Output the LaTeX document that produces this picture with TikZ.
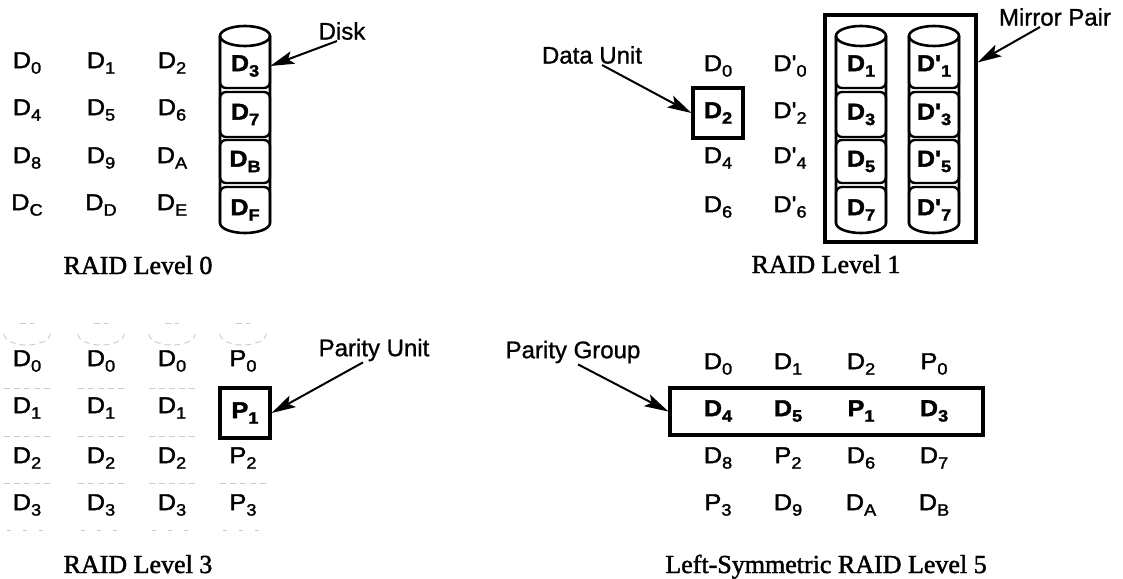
\documentclass[tikz,border=0pt]{standalone}
\usepackage{fontspec}
\setmainfont{Liberation Sans}
\newfontfamily\titlefont{Liberation Serif}[FakeBold=1.6]
\newfontfamily\lblf{Liberation Sans}[FakeBold=1.8, FakeStretch=1.1]
\newfontfamily\notef{Liberation Sans}[FakeBold=1.0]
\usetikzlibrary{arrows.meta,calc}
\newcommand{\Dl}[2]{#1\raisebox{-5.5pt}{\fontsize{16.5}{16.5}\selectfont #2}}
\newcommand{\diskcyl}[1]{%
  \draw[cylline] (#1-25,36) -- (#1-25,88) -- (#1+25,88) -- (#1+25,36);
  \draw[cylline] (#1-25,92) rectangle (#1+25,137);
  \draw[cylline] (#1-25,140) rectangle (#1+25,183);
  \draw[cylline] (#1-25,223) -- (#1-25,187) -- (#1+25,187) -- (#1+25,223);
  \draw[line width=2.6pt] (#1-25,36) -- (#1-25,223)
     arc[start angle=180,end angle=360,x radius=25pt,y radius=10pt] -- (#1+25,36);
  \draw[line width=2.6pt] (#1,36) ellipse [x radius=25pt, y radius=10pt];
}
\begin{document}
\begin{tikzpicture}[x=1pt,y=-1pt,
  lbl/.style={font=\lblf\fontsize{23}{23}\selectfont, inner sep=0pt},
  blbl/.style={inner sep=0pt, font=\lblf\fontsize{23}{23}\selectfont\bfseries},
  cell/.style={blbl, minimum width=50pt, minimum height=43pt},
  note/.style={font=\notef\fontsize{24}{24}\selectfont, inner sep=1pt},
  ttl/.style={font=\titlefont\fontsize{26}{26}\selectfont, inner sep=0pt, anchor=base},
  arr/.style={line width=2pt, -{Stealth[length=24pt,width=13pt,inset=5pt]}},
  cylline/.style={line width=2.4pt, rounded corners=6pt},
  heavybox/.style={draw, line width=3.2pt, inner sep=0pt},
  faint/.style={gray!40, line width=0.9pt, dash pattern=on 6pt off 4pt}]
\fill[white] (0,0) rectangle (1123,578);
\path[use as bounding box] (0,0) rectangle (1123,578);

% ---------------- RAID Level 0 ----------------
\node[lbl] (a00) at (27,63)  {\Dl{D}{0}};
\node[lbl] (a01) at (101,63) {\Dl{D}{1}};
\node[lbl] (a02) at (172,63) {\Dl{D}{2}};
\node[lbl] (a10) at (27,110)  {\Dl{D}{4}};
\node[lbl] (a11) at (101,110) {\Dl{D}{5}};
\node[lbl] (a12) at (172,110) {\Dl{D}{6}};
\node[lbl] (a20) at (27,158)  {\Dl{D}{8}};
\node[lbl] (a21) at (101,158) {\Dl{D}{9}};
\node[lbl] (a22) at (172,158) {\Dl{D}{A}};
\node[lbl] (a30) at (27,205)  {\Dl{D}{C}};
\node[lbl] (a31) at (101,205) {\Dl{D}{D}};
\node[lbl] (a32) at (172,205) {\Dl{D}{E}};
\diskcyl{245}
\node[cell] (a03) at (245,66)    {\Dl{D}{3}};
\node[cell] (a13) at (245,114.5) {\Dl{D}{7}};
\node[cell] (a23) at (245,161.5) {\Dl{D}{B}};
\node[cell] (a33) at (245,210)   {\Dl{D}{F}};
\node[note] (disk) at (342,31) {Disk};
\draw[arr] ([xshift=-5pt]disk.south) -- (a03.east);
\node[ttl] (t0) at (138,274) {RAID Level 0};

% ---------------- RAID Level 1 ----------------
\node[note] (du) at (592,55) {Data Unit};
\node[lbl] (b00) at (718,66) {\Dl{D}{0}};
\node[heavybox, minimum width=50pt, minimum height=50pt,
      font=\lblf\fontsize{23}{23}\selectfont\bfseries] (b10) at (718,113) {\Dl{D}{2}};
\node[lbl] (b20) at (718,158) {\Dl{D}{4}};
\node[lbl] (b30) at (718,207) {\Dl{D}{6}};
\node[lbl] (b01) at (790,66)  {\Dl{D'}{0}};
\node[lbl] (b11) at (790,113) {\Dl{D'}{2}};
\node[lbl] (b21) at (790,158) {\Dl{D'}{4}};
\node[lbl] (b31) at (790,207) {\Dl{D'}{6}};
\node[heavybox, minimum width=151pt, minimum height=227pt] (mirror) at (900.5,128.5) {};
\diskcyl{861}
\diskcyl{934}
\node[cell] (b02) at (861,66)    {\Dl{D}{1}};
\node[cell] (b12) at (861,114.5) {\Dl{D}{3}};
\node[cell] (b22) at (861,161.5) {\Dl{D}{5}};
\node[cell] (b32) at (861,210)   {\Dl{D}{7}};
\node[cell] (b03) at (934,66)    {\Dl{D'}{1}};
\node[cell] (b13) at (934,114.5) {\Dl{D'}{3}};
\node[cell] (b23) at (934,161.5) {\Dl{D'}{5}};
\node[cell] (b33) at (934,210)   {\Dl{D'}{7}};
\draw[arr] ([xshift=10pt]du.south) -- (b10.west);
\node[note] (mp) at (1055,17) {Mirror Pair};
\draw[arr] ([xshift=-15pt]mp.south) -- ([yshift=66pt]mirror.east);
\node[ttl] (t1) at (826,273) {RAID Level 1};

% ---------------- RAID Level 3 ----------------
\foreach \x in {27,101,172,243} {
  \draw[faint] (\x-23,334) arc[start angle=180,end angle=360,x radius=23pt,y radius=11pt];
  \draw[faint] (\x-7,323) -- (\x+7,323);
  \draw[faint] (\x-23,388) -- (\x+23,388);
  \draw[faint] (\x-23,436) -- (\x+23,436);
  \draw[faint] (\x-23,483) -- (\x+23,483);
  \draw[faint, dash pattern=on 4pt off 12pt] (\x-20,530) -- (\x+20,530);
}
\node[lbl] (c00) at (27,361)  {\Dl{D}{0}};
\node[lbl] (c01) at (101,361) {\Dl{D}{0}};
\node[lbl] (c02) at (172,361) {\Dl{D}{0}};
\node[lbl] (c03) at (243,361) {\Dl{P}{0}};
\node[lbl] (c10) at (27,408)  {\Dl{D}{1}};
\node[lbl] (c11) at (101,408) {\Dl{D}{1}};
\node[lbl] (c12) at (172,408) {\Dl{D}{1}};
\node[heavybox, fill=white, minimum width=50pt, minimum height=50pt,
      font=\lblf\fontsize{23}{23}\selectfont\bfseries] (c13) at (245,413) {\Dl{P}{1}};
\node[lbl] (c20) at (27,458)  {\Dl{D}{2}};
\node[lbl] (c21) at (101,458) {\Dl{D}{2}};
\node[lbl] (c22) at (172,458) {\Dl{D}{2}};
\node[lbl] (c23) at (243,458) {\Dl{P}{2}};
\node[lbl] (c30) at (27,505)  {\Dl{D}{3}};
\node[lbl] (c31) at (101,505) {\Dl{D}{3}};
\node[lbl] (c32) at (172,505) {\Dl{D}{3}};
\node[lbl] (c33) at (243,505) {\Dl{P}{3}};
\node[note] (pu) at (374,350) {Parity Unit};
\draw[arr] ([xshift=-11pt]pu.south) -- (c13.east);
\node[ttl] (t3) at (138,573) {RAID Level 3};

% ---------------- Left-Symmetric RAID Level 5 ----------------
\node[heavybox, minimum width=313pt, minimum height=47pt] (pgbox) at (826.5,411.5) {};
\node[lbl] (e00) at (718,364) {\Dl{D}{0}};
\node[lbl] (e01) at (788,364) {\Dl{D}{1}};
\node[lbl] (e02) at (861,364) {\Dl{D}{2}};
\node[lbl] (e03) at (934,364) {\Dl{P}{0}};
\node[blbl] (e10) at (718,411) {\Dl{D}{4}};
\node[blbl] (e11) at (788,411) {\Dl{D}{5}};
\node[blbl] (e12) at (861,411) {\Dl{P}{1}};
\node[blbl] (e13) at (934,411) {\Dl{D}{3}};
\node[lbl] (e20) at (718,458) {\Dl{D}{8}};
\node[lbl] (e21) at (788,458) {\Dl{P}{2}};
\node[lbl] (e22) at (861,458) {\Dl{D}{6}};
\node[lbl] (e23) at (934,458) {\Dl{D}{7}};
\node[lbl] (e30) at (718,505) {\Dl{P}{3}};
\node[lbl] (e31) at (788,505) {\Dl{D}{9}};
\node[lbl] (e32) at (861,505) {\Dl{D}{A}};
\node[lbl] (e33) at (934,505) {\Dl{D}{B}};
\node[note] (pg) at (573,352) {Parity Group};
\draw[arr] ([xshift=5pt]pg.south) -- (pgbox.west);
\node[ttl] (t5) at (826,573) {Left-Symmetric RAID Level 5};
\end{tikzpicture}
\end{document}
